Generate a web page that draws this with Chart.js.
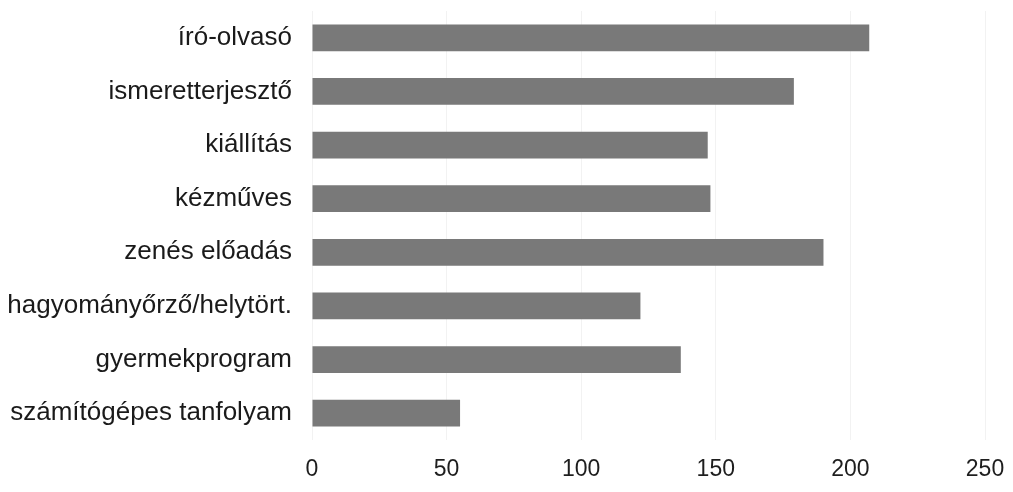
<!DOCTYPE html>
<html>
<head>
<meta charset="utf-8">
<script src="https://cdn.jsdelivr.net/npm/chart.js@4"></script>
<style>
  html, body { margin: 0; padding: 0; background: #fff; }
  #wrap { width: 1013px; height: 492px; }
</style>
</head>
<body>
<div id="wrap"><canvas id="bars"></canvas></div>
<script>
// categories, top to bottom
const categories = [
  "író-olvasó",
  "ismeretterjesztő",
  "kiállítás",
  "kézműves",
  "zenés előadás",
  "hagyományőrző/helytört.",
  "gyermekprogram",
  "számítógépes tanfolyam"
];
// values
const values = [207, 179, 147, 148, 190, 122, 137, 55];
const xTicks = [0, 50, 100, 150, 200, 250];

const ctx = document.getElementById("bars");
new Chart(ctx, {
  type: 'bar',
  data: {
    labels: categories,
    datasets: [{
      data: values,
      backgroundColor: '#797979',
      borderWidth: 0,
      barPercentage: 1,
      categoryPercentage: 0.5
    }]
  },
  options: {
    indexAxis: 'y',
    responsive: true,
    maintainAspectRatio: false,
    animation: false,
    layout: { padding: { top: 11, right: 28, bottom: 6, left: 8 } },
    plugins: { legend: { display: false }, tooltip: { enabled: false } },
    scales: {
      x: {
        min: 0,
        max: 250,
        afterBuildTicks: (axis) => { axis.ticks = xTicks.map(v => ({ value: v })); },
        // fixed band for the tick labels, no room for overhangs
        afterFit: (axis) => {
          axis.height = 46;
          axis.paddingLeft = 0;
          axis.paddingRight = 0;
          axis.paddingBottom = 0;
        },
        grid: { color: '#f2f2f2', drawTicks: false },
        border: { display: false },
        ticks: {
          color: '#1e1e1e',
          padding: 16,
          font: { family: 'Liberation Sans', size: 23 }
        }
      },
      y: {
        afterFit: (axis) => {
          axis.width = 304;
          axis.paddingTop = 0;
          axis.paddingBottom = 0;
        },
        grid: { display: false },
        border: { display: false },
        ticks: {
          color: '#1a1a1a',
          padding: 12,
          font: { family: 'Liberation Sans', size: 26 }
        }
      }
    }
  }
});
</script>
</body>
</html>
